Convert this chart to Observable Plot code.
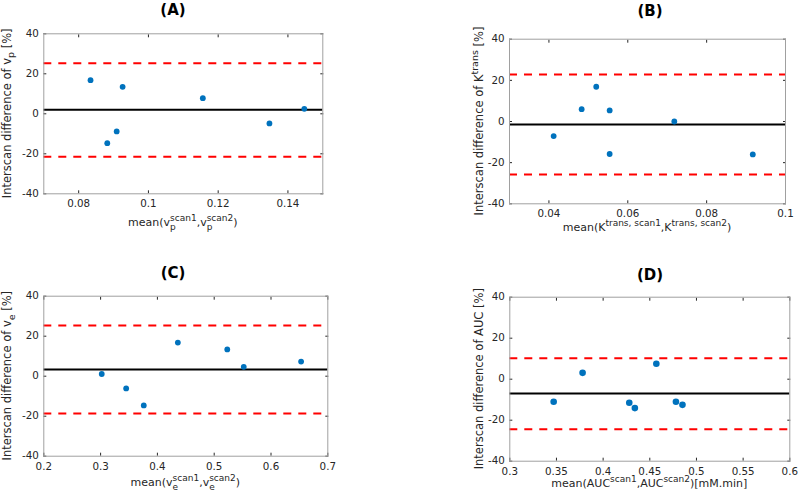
<!DOCTYPE html>
<html><head><meta charset="utf-8">
<script src="https://cdn.jsdelivr.net/npm/d3@7"></script>
<script src="https://cdn.jsdelivr.net/npm/@observablehq/plot@0.6"></script>
<style>
body{margin:0;background:#fff;}
#fig{position:relative;width:800px;height:496px;overflow:hidden;font-family:"DejaVu Sans";}
#fig svg{position:absolute;overflow:visible;}
</style></head><body><div id="fig"></div>
<script>
// ---- data ----
const yTicks = [-40, -20, 0, 20, 40];

const aXTicks = [0.08, 0.1, 0.12, 0.14];
const aX = [0.0834, 0.0882, 0.0909, 0.0926, 0.1156, 0.1347, 0.1447];
const aY = [16.8, -14.7, -8.8, 13.5, 7.8, -4.8, 2.5];
const aLimits = [2.0, 25.3, -21.5]; // mean, upper, lower

const bXTicks = [0.04, 0.06, 0.08, 0.1];
const bX = [0.0412, 0.0483, 0.0520, 0.0554, 0.0554, 0.0718, 0.0917];
const bY = [-7.1, 6.0, 16.9, 5.4, -15.8, 0.0, -16.0];
const bLimits = [-1.4, 22.9, -25.8];

const cXTicks = [0.2, 0.3, 0.4, 0.5, 0.6, 0.7];
const cX = [0.302, 0.345, 0.376, 0.436, 0.523, 0.552, 0.653];
const cY = [1.1, -6.1, -14.6, 16.8, 13.4, 4.7, 7.3];
const cLimits = [3.4, 25.4, -18.6];

const dXTicks = [0.3, 0.35, 0.4, 0.45, 0.5, 0.55, 0.6];
const dX = [0.347, 0.378, 0.428, 0.434, 0.457, 0.478, 0.485];
const dY = [-11.0, 3.1, -11.5, -14.1, 7.5, -11.0, -12.5];
const dLimits = [-7.0, 10.2, -24.4];

const titles = ["(A)", "(B)", "(C)", "(D)"];

// ---- helpers ----
const ctx = document.createElement("canvas").getContext("2d");
function tw(s, size) { ctx.font = `${size}px "DejaVu Sans"`; return ctx.measureText(s).width; }

function richLabel(svg, parts, {x, y, rotate = 0, size = 11, ss = 9, subDy = 3.5, supDy = -5}) {
  let cur = 0; const items = [];
  for (const p of parts) {
    if (typeof p === "string") { items.push({s: p, x: cur, dy: 0, size}); cur += tw(p, size); }
    else {
      let w = 0;
      if (p.sup) { items.push({s: p.sup, x: cur, dy: supDy, size: ss}); w = Math.max(w, tw(p.sup, ss)); }
      if (p.sub) { items.push({s: p.sub, x: cur, dy: subDy, size: ss}); w = Math.max(w, tw(p.sub, ss)); }
      cur += w;
    }
  }
  const g = d3.select(svg).append("g").attr("transform", `translate(${x},${y}) rotate(${rotate})`);
  const text = g.append("text").attr("text-anchor", "start").style("text-anchor", "start")
    .style("fill", "#262626").style("font-family", '"DejaVu Sans"').style("white-space", "pre");
  for (const it of items) {
    text.append("tspan").attr("x", it.x - cur / 2).attr("y", it.dy).attr("text-anchor", "start")
      .style("font-size", it.size + "px").style("font-family", '"DejaVu Sans"').text(it.s);
  }
}

function panel(cfg) {
  const pts = cfg.xs.map((x, i) => ({x, y: cfg.ys[i]}));
  const [mean, upper, lower] = cfg.limits;
  const fmt = d => String(d);
  const svg = Plot.plot({
    width: 400, height: 248,
    marginLeft: cfg.m[0], marginTop: cfg.m[1], marginRight: cfg.m[2], marginBottom: cfg.m[3],
    style: {fontFamily: "DejaVu Sans", fontSize: "10.3px", color: "#262626", background: "transparent"},
    x: {domain: cfg.xDomain},
    y: {domain: [-40, 40]},
    marks: [
      Plot.axisX({anchor: "bottom", ticks: cfg.xTicks, tickSize: 0, tickPadding: 6, tickFormat: fmt, label: null, fill: "#262626"}),
      Plot.axisX({anchor: "bottom", ticks: cfg.xTicks, tickSize: -3, tickFormat: () => "", label: null, stroke: "#262626"}),
      Plot.axisX({anchor: "top", ticks: cfg.xTicks, tickSize: -3, tickFormat: () => "", label: null, stroke: "#262626"}),
      Plot.axisY({anchor: "left", ticks: yTicks, tickSize: 0, tickPadding: 5, tickFormat: fmt, label: null, fill: "#262626"}),
      Plot.axisY({anchor: "left", ticks: yTicks, tickSize: -3, tickFormat: () => "", label: null, stroke: "#262626"}),
      Plot.axisY({anchor: "right", ticks: yTicks, tickSize: -3, tickFormat: () => "", label: null, stroke: "#262626"}),
      Plot.ruleY([upper, lower], {stroke: "#FF0000", strokeWidth: 2, strokeDasharray: "8,7"}),
      Plot.ruleY([mean], {stroke: "#000000", strokeWidth: 2}),
      Plot.dot(pts, {x: "x", y: "y", r: cfg.r, fill: "#0072BD", stroke: "none"}),
      Plot.frame({stroke: "#a0a0a0", strokeWidth: 1})
    ]
  });
  svg.style.left = cfg.pos[0] + "px";
  svg.style.top = cfg.pos[1] + "px";
  document.getElementById("fig").appendChild(svg);
  d3.select(svg).append("text").attr("x", cfg.title[1]).attr("y", cfg.title[2])
    .attr("text-anchor", "middle").style("font-family", '"DejaVu Sans"').style("font-weight", "bold")
    .style("font-size", "15px").style("fill", "#000").text(cfg.title[0]);
  const boxCY = (cfg.m[1] + 248 - cfg.m[3]) / 2;
  const boxCX = (cfg.m[0] + 400 - cfg.m[2]) / 2;
  richLabel(svg, cfg.ylab, {x: cfg.ylabX, y: boxCY, rotate: -90, size: 11.5, ss: 9.5});
  richLabel(svg, cfg.xlab, {x: boxCX, y: cfg.xlabY, size: 11, ss: 9});
}

panel({xs: aX, ys: aY, limits: aLimits, xDomain: [0.07, 0.15], xTicks: aXTicks, r: 2.9,
  m: [43.3, 33.3, 77.7, 54.7], pos: [0, 0], title: [titles[0], 173, 15],
  ylabX: 10.5, xlabY: 226,
  ylab: ["Interscan difference of v", {sub: "p"}, " [%]"],
  xlab: ["mean(v", {sub: "p", sup: "scan1"}, ",v", {sub: "p", sup: "scan2"}, ")"]});

panel({xs: bX, ys: bY, limits: bLimits, xDomain: [0.03, 0.1], xTicks: bXTicks, r: 2.9,
  m: [109, 38.7, 15, 44.7], pos: [400, 0], title: [titles[1], 250, 15.5],
  ylabX: 82.5, xlabY: 231,
  ylab: ["Interscan difference of K", {sup: "trans"}, " [%]"],
  xlab: ["mean(K", {sup: "trans, scan1"}, ",K", {sup: "trans, scan2"}, ")"]});

panel({xs: cX, ys: cY, limits: cLimits, xDomain: [0.2, 0.7], xTicks: cXTicks, r: 2.9,
  m: [43.3, 47.7, 72.7, 40.3], pos: [0, 248], title: [titles[2], 173, 29.5],
  ylabX: 11, xlabY: 238,
  ylab: ["Interscan difference of v", {sub: "e"}, " [%]"],
  xlab: ["mean(v", {sub: "e", sup: "scan1"}, ",v", {sub: "e", sup: "scan2"}, ")"]});

panel({xs: dX, ys: dY, limits: dLimits, xDomain: [0.3, 0.6], xTicks: dXTicks, r: 3.3,
  m: [109.3, 48.7, 10.7, 35.3], pos: [400, 248], title: [titles[3], 250, 31.5],
  ylabX: 82.5, xlabY: 239,
  ylab: ["Interscan difference of AUC [%]"],
  xlab: ["mean(AUC", {sup: "scan1"}, ",AUC", {sup: "scan2"}, ")[mM.min]"]});
</script>
</body></html>
